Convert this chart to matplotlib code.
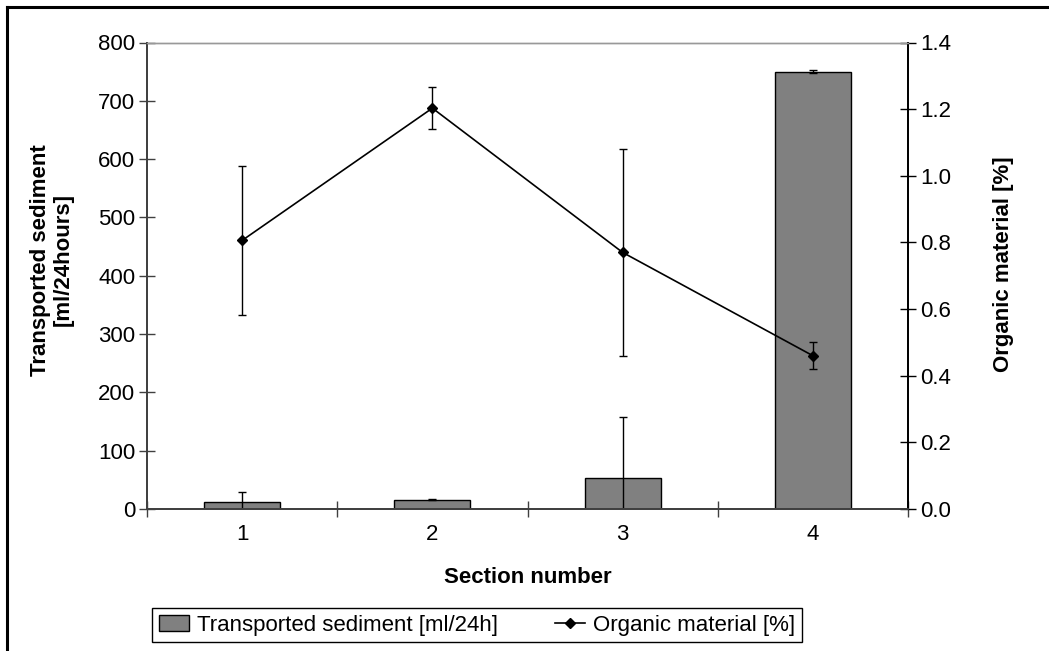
import matplotlib
matplotlib.use("Agg")
import matplotlib.pyplot as plt
from matplotlib.lines import Line2D
from matplotlib.patches import Patch
import numpy as np

plt.rcParams['font.family'] = ['Liberation Sans', 'DejaVu Sans']

sections = ["1", "2", "3", "4"]
sediment = [12, 16, 53, 750]
sediment_err = [18, 1, 104, 3]
organic = [0.806, 1.203, 0.770, 0.460]
organic_err = [0.224, 0.064, 0.310, 0.040]
left_ticks = list(range(0, 801, 100))
right_ticks = [0.0, 0.2, 0.4, 0.6, 0.8, 1.0, 1.2, 1.4]

fs = 16
W, H = 1049, 651
fig = plt.figure(figsize=(W/100, H/100), dpi=100)
ax = fig.add_axes([147/W, 1-509/H, (908-147)/W, (509-42.5)/H])
ax2 = ax.twinx()

x = np.arange(1, len(sections) + 1)
ax.bar(x, sediment, width=0.4, color='#808080', edgecolor='black', linewidth=1.0,
       yerr=sediment_err, error_kw=dict(ecolor='black', elinewidth=1.0, capsize=3, capthick=1.0),
       zorder=2)
ax.set_xlim(0.5, 4.5)
ax.set_ylim(0, 800)
ax.set_yticks(left_ticks)
ax.set_xticks(np.arange(0.5, 4.6, 1.0))
ax.set_xticklabels([])
ax.set_xticks(x, minor=True)
ax.set_xticklabels(sections, minor=True)
ax.tick_params(axis='x', which='minor', length=0, pad=11, labelsize=fs)
ax.tick_params(axis='x', which='major', direction='inout', length=11, width=1, color='#404040')
ax.tick_params(axis='y', direction='inout', length=11, width=1, color='#404040', labelsize=fs, pad=3)

ax2.errorbar(x, organic, yerr=organic_err, color='black', linewidth=1.2, marker='D', markersize=5,
             ecolor='black', elinewidth=1.0, capsize=3, capthick=1.0, zorder=3)
ax2.set_ylim(0, 1.4)
ax2.set_yticks(right_ticks)
ax2.set_yticklabels([f"{v:.1f}" for v in right_ticks])
ax2.tick_params(axis='y', direction='inout', length=11, width=1, color='black', labelsize=fs, pad=3)

for a in (ax, ax2):
    a.spines['top'].set_color('#999999')
    a.spines['top'].set_linewidth(1.0)
    a.spines['left'].set_color('#404040')
    a.spines['left'].set_linewidth(1.3)
    a.spines['bottom'].set_color('#404040')
    a.spines['bottom'].set_linewidth(1.3)
    a.spines['right'].set_color('black')
    a.spines['right'].set_linewidth(1.3)

ax.set_ylabel('Transported sediment\n[ml/24hours]', fontsize=fs, fontweight='bold', linespacing=1.15)
ax.yaxis.set_label_coords((74-147)/761, (509-260)/466.5)
ax2.set_ylabel('Organic material [%]', fontsize=fs, fontweight='bold', rotation=90)
ax2.yaxis.set_label_coords((993-147)/761, (509-264)/466.5)
ax.set_xlabel('Section number', fontsize=fs, fontweight='bold')
ax.xaxis.set_label_coords(0.5, -(567-509)/466.5)

handles = [Patch(facecolor='#808080', edgecolor='black', linewidth=1.0),
           Line2D([], [], color='black', linewidth=1.2, marker='D', markersize=5)]
labels = ['Transported sediment [ml/24h]', 'Organic material [%]']
leg = fig.legend(handles, labels, ncol=2, loc='center', bbox_to_anchor=(477/W, 1-625/H),
                 fontsize=fs, frameon=True, fancybox=False, edgecolor='black', framealpha=1,
                 handlelength=1.35, handleheight=0.7, handletextpad=0.35, columnspacing=2.6,
                 borderpad=0.3, borderaxespad=0)
leg.get_frame().set_linewidth(1.0)

fig.add_artist(Line2D([7/W, 7/W], [0, 1-7/H], color='black', linewidth=2.2, transform=fig.transFigure))
fig.add_artist(Line2D([7/W, 1], [1-7/H, 1-7/H], color='black', linewidth=2.2, transform=fig.transFigure))

fig.savefig('out.png', dpi=100)
